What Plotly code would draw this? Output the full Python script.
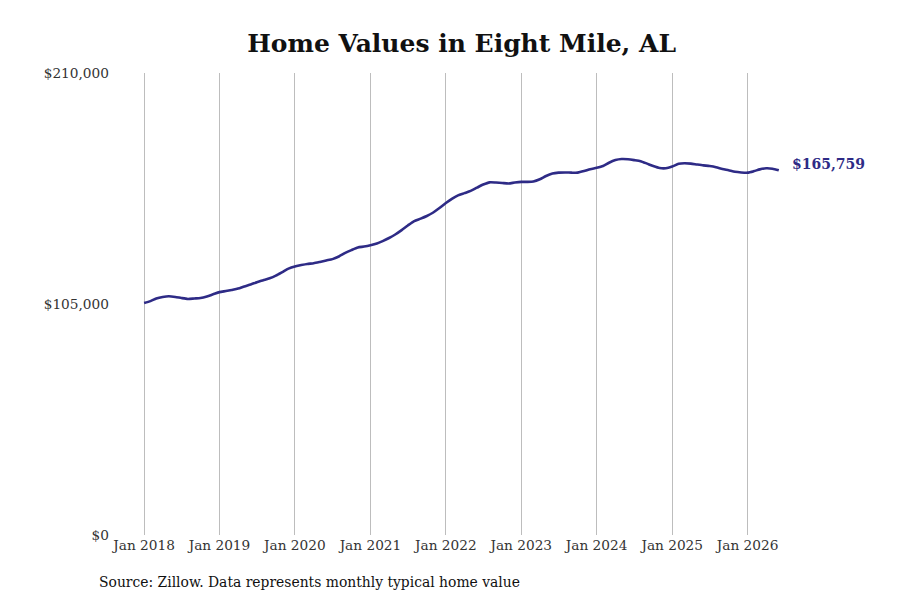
import pandas as pd
import plotly.graph_objects as go

# === data: monthly typical home value, Eight Mile AL ===
months = pd.date_range("2018-01-01", "2026-06-01", freq="MS")

home_values = [
    105400, 106300, 107500, 108200, 108500, 108200, 107700, 107300, 107500, 107700, 108400, 109400,
    110400, 110900, 111400, 112000, 113000, 113900, 114900, 115800, 116700, 117900, 119500, 121100,
    122100, 122700, 123200, 123500, 124100, 124800, 125400, 126600, 128200, 129500, 130700, 131100,
    131700, 132500, 133600, 135000, 136600, 138600, 140700, 142700, 143800, 145000, 146600, 148600,
    150900, 152900, 154400, 155400, 156400, 157900, 159300, 160300, 160200, 160000, 159800, 160200,
    160500, 160500, 160700, 161700, 163200, 164300, 164700, 164800, 164700, 164700, 165400, 166300,
    166900, 167700, 169200, 170400, 170900, 170800, 170400, 169900, 168800, 167700, 166800, 166700,
    167500, 168700, 169000, 168800, 168400, 168000, 167700, 167200, 166400, 165800, 165100, 164800,
    164700, 165400, 166200, 166700, 166500, 165759,
]

y_ticks = [0, 105000, 210000]
y_labels = ["$0", "$105,000", "$210,000"]
x_ticks = pd.date_range("2018-01-01", "2026-01-01", freq="YS")
x_labels = [f"Jan {d.year}" for d in x_ticks]

LINE = "#2e2b86"
FONT = "DejaVu Serif"

fig = go.Figure()
fig.add_trace(go.Scatter(
    x=months, y=home_values, mode="lines",
    line=dict(color=LINE, width=2.6, shape="spline", smoothing=0.6),
    hoverinfo="skip", showlegend=False,
))

# label on last point
fig.add_annotation(
    x=months[-1], y=home_values[-1], xref="x", yref="y",
    text=f"<b>${home_values[-1]:,}</b>", showarrow=False,
    xanchor="left", xshift=11, yshift=6,
    font=dict(family=FONT, size=14, color=LINE),
)

# source note under the axis
fig.add_annotation(
    x=-0.0193, y=0, xref="paper", yref="paper",
    xanchor="left", yanchor="middle", yshift=-47,
    text="Source: Zillow. Data represents monthly typical home value",
    showarrow=False, font=dict(family=FONT, size=13.9, color="#111"),
)

fig.update_layout(
    width=900, height=600,
    paper_bgcolor="white", plot_bgcolor="white",
    margin=dict(l=102, r=123, t=65, b=73),
    title=dict(text="<b>Home Values in Eight Mile, AL</b>", x=0.504, xanchor="center", y=0.942, yanchor="middle",
               font=dict(family=FONT, size=25, color="#111")),
    font=dict(family=FONT, size=13, color="#333"),
    xaxis=dict(
        range=["2017-07-20", "2026-07-01"],
        tickvals=x_ticks, ticktext=x_labels,
        showgrid=True, gridcolor="#bdbdbd", gridwidth=1,
        showline=False, zeroline=False, ticks="",
        tickfont=dict(family=FONT, size=13.7, color="#333"),
    ),
    yaxis=dict(
        range=[0, 210000], tickvals=y_ticks, ticktext=y_labels,
        showgrid=False, zeroline=False, showline=False, ticks="",
        tickfont=dict(family=FONT, size=13.7, color="#333"),
    ),
)

fig.write_html("out.html")
